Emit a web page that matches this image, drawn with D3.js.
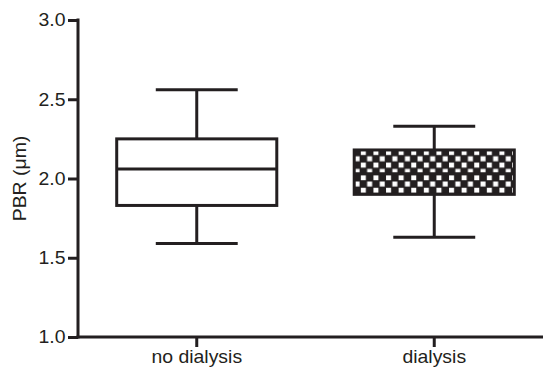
<!DOCTYPE html>
<html>
<head>
<meta charset="utf-8">
<script src="https://cdn.jsdelivr.net/npm/d3@7"></script>
<style>
 body { margin:0; background:#fff; }
 svg text { font-family: "Liberation Sans", Arial, sans-serif; fill:#231f20; }
</style>
</head>
<body>
<div id="chart"></div>
<script>
// box plot values
const categories = ['no dialysis', 'dialysis'];
const whiskerLow = [1.59, 1.63];
const q1 = [1.83, 1.90];
const median = [2.06, 2.03];
const q3 = [2.25, 2.18];
const whiskerHigh = [2.56, 2.33];
const yTicks = [1.0, 1.5, 2.0, 2.5, 3.0];

const width = 543, height = 367;
const ink = '#231f20';
const fontSize = 18;
const stretch = 1.08;

const svg = d3.select('#chart').append('svg')
    .attr('width', width)
    .attr('height', height);

// checkerboard fill for the dialysis box
const pat = svg.append('defs').append('pattern')
    .attr('id', 'checker')
    .attr('patternUnits', 'userSpaceOnUse')
    .attr('width', 12.6)
    .attr('height', 12.6)
    .attr('x', 354)
    .attr('y', 149);
pat.append('rect').attr('width', 12.6).attr('height', 12.6).attr('fill', ink);
pat.append('rect').attr('x', 1.0).attr('y', 1.0).attr('width', 5).attr('height', 5).attr('fill', '#fff');
pat.append('rect').attr('x', 7.3).attr('y', 7.3).attr('width', 5).attr('height', 5).attr('fill', '#fff');

const data = categories.map((c, i) => ({
  cat: c, lo: whiskerLow[i], q1: q1[i], med: median[i], q3: q3[i], hi: whiskerHigh[i]
}));

const xScale = d3.scaleBand()
    .domain(categories)
    .range([78, 553]);

const yScale = d3.scaleLinear()
    .domain([1, 3])
    .range([337, 20]);

const boxW = xScale.bandwidth() * 0.674;
const capW = xScale.bandwidth() * 0.345;

// y axis
const yAxis = svg.append('g')
    .attr('transform', 'translate(78,0)')
    .call(d3.axisLeft(yScale).tickValues(yTicks).tickFormat(d3.format('.1f')).tickSize(10).tickSizeOuter(0).tickPadding(3));
yAxis.select('.domain').remove();
yAxis.selectAll('.tick line').attr('stroke', ink).attr('stroke-width', 3);
yAxis.selectAll('.tick text')
    .attr('font-size', fontSize)
    .attr('x', -12.5 / stretch)
    .attr('transform', `scale(${stretch},1)`);
yAxis.append('line')
    .attr('x1', 0).attr('x2', 0)
    .attr('y1', yScale(3) - 1.5).attr('y2', yScale(1) + 1.5)
    .attr('stroke', ink).attr('stroke-width', 3);

// x axis
const xAxis = svg.append('g')
    .attr('transform', `translate(0,${yScale(1)})`)
    .call(d3.axisBottom(xScale).tickSize(10).tickSizeOuter(0).tickPadding(3));
xAxis.select('.domain').remove();
xAxis.selectAll('.tick line').attr('stroke', ink).attr('stroke-width', 3);
xAxis.selectAll('.tick text')
    .attr('font-size', fontSize)
    .attr('transform', `scale(${stretch},1)`)
    .attr('x', 0);
xAxis.append('line')
    .attr('x1', 76.5).attr('x2', 553)
    .attr('y1', 0).attr('y2', 0)
    .attr('stroke', ink).attr('stroke-width', 3);

// y axis title
svg.append('text')
    .attr('transform', `translate(26,${(yScale(1) + yScale(3)) / 2}) rotate(-90) scale(${stretch},1)`)
    .attr('text-anchor', 'middle')
    .attr('font-size', fontSize)
    .text('PBR (\u03bcm)');

// boxes
const boxes = svg.append('g').selectAll('g')
    .data(data)
    .join('g')
    .attr('transform', d => `translate(${xScale(d.cat) + xScale.bandwidth() / 2},0)`);

boxes.append('line')
    .attr('x1', 0).attr('x2', 0)
    .attr('y1', d => yScale(d.hi)).attr('y2', d => yScale(d.lo))
    .attr('stroke', ink).attr('stroke-width', 3);

boxes.append('line')
    .attr('x1', -capW / 2).attr('x2', capW / 2)
    .attr('y1', d => yScale(d.hi)).attr('y2', d => yScale(d.hi))
    .attr('stroke', ink).attr('stroke-width', 3);

boxes.append('line')
    .attr('x1', -capW / 2).attr('x2', capW / 2)
    .attr('y1', d => yScale(d.lo)).attr('y2', d => yScale(d.lo))
    .attr('stroke', ink).attr('stroke-width', 3);

boxes.append('rect')
    .attr('x', -boxW / 2)
    .attr('width', boxW)
    .attr('y', d => yScale(d.q3))
    .attr('height', d => yScale(d.q1) - yScale(d.q3))
    .attr('fill', (d, i) => i === 1 ? 'url(#checker)' : '#fff')
    .attr('stroke', ink).attr('stroke-width', 3);

boxes.append('line')
    .attr('x1', -boxW / 2).attr('x2', boxW / 2)
    .attr('y1', d => yScale(d.med)).attr('y2', d => yScale(d.med))
    .attr('stroke', ink).attr('stroke-width', 3);
</script>
</body>
</html>
